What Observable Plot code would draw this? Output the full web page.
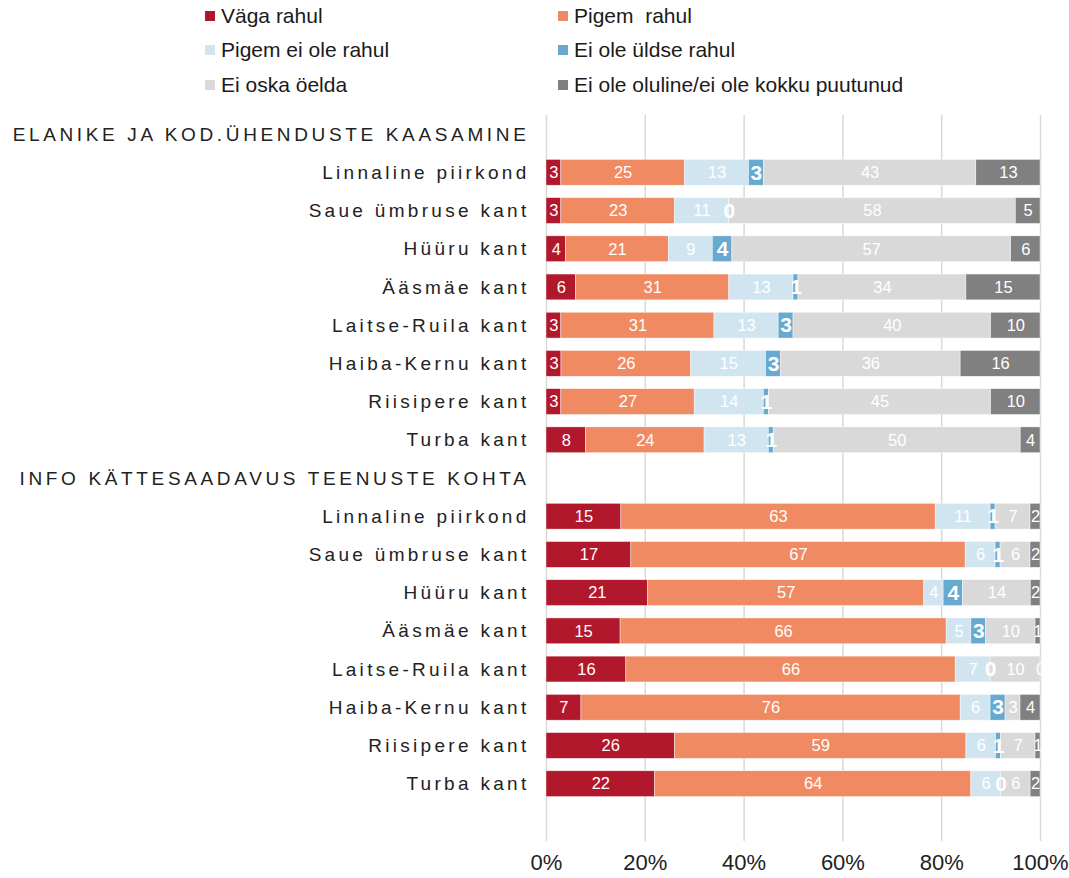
<!DOCTYPE html>
<html><head><meta charset="utf-8">
<script src="https://cdn.jsdelivr.net/npm/d3@7"></script>
<script src="https://cdn.jsdelivr.net/npm/@observablehq/plot@0.6"></script>
<style>
body{margin:0;background:#fff;font-family:"Liberation Sans",Arial,sans-serif;}
#wrap{position:relative;width:1069px;height:878px;}
#legend{position:absolute;left:0;top:0;width:1069px;height:100px;}
.li{position:absolute;font-size:21px;color:#1a1a1a;line-height:22px;white-space:nowrap}
.sw{position:absolute;width:10px;height:10px}
#chart{position:absolute;left:0;top:100px}
</style></head>
<body><div id="wrap"><div id="legend"></div><div id="chart"></div></div>
<script>
const categories = ["Väga rahul", "Pigem  rahul", "Pigem ei ole rahul", "Ei ole üldse rahul", "Ei oska öelda", "Ei ole oluline/ei ole kokku puutunud"];
const colors = ["#b2182b", "#ef8a62", "#d1e5f0", "#67a9cf", "#d9d9d9", "#808080"];
const groups = ["ELANIKE JA KOD.ÜHENDUSTE KAASAMINE", "INFO KÄTTESAADAVUS TEENUSTE KOHTA"];
const regions = ["Linnaline piirkond", "Saue ümbruse kant", "Hüüru kant", "Ääsmäe kant", "Laitse-Ruila kant", "Haiba-Kernu kant", "Riisipere kant", "Turba kant"];
const xTicks = [0, 0.2, 0.4, 0.6, 0.8, 1];

// Group 1: ELANIKE JA KOD.ÜHENDUSTE KAASAMINE (one array per category, by region)
const g1VagaRahul     = [3, 3, 4, 6, 3, 3, 3, 8];
const g1PigemRahul    = [25, 23, 21, 31, 31, 26, 27, 24];
const g1PigemEiOle    = [13, 11, 9, 13, 13, 15, 14, 13];
const g1EiOleUldse    = [3, 0, 4, 1, 3, 3, 1, 1];
const g1EiOska        = [43, 58, 57, 34, 40, 36, 45, 50];
const g1EiOleOluline  = [13, 5, 6, 15, 10, 16, 10, 4];
// Group 2: INFO KÄTTESAADAVUS TEENUSTE KOHTA
const g2VagaRahul     = [15, 17, 21, 15, 16, 7, 26, 22];
const g2PigemRahul    = [63, 67, 57, 66, 66, 76, 59, 64];
const g2PigemEiOle    = [11, 6, 4, 5, 7, 6, 6, 6];
const g2EiOleUldse    = [1, 1, 4, 3, 0, 3, 1, 0];
const g2EiOska        = [7, 6, 14, 10, 10, 3, 7, 6];
const g2EiOleOluline  = [2, 2, 2, 1, 0, 4, 1, 2];

const values = [
  [g1VagaRahul, g1PigemRahul, g1PigemEiOle, g1EiOleUldse, g1EiOska, g1EiOleOluline],
  [g2VagaRahul, g2PigemRahul, g2PigemEiOle, g2EiOleUldse, g2EiOska, g2EiOleOluline]
];

const rows = [];
const domain = [];
groups.forEach((g, gi) => {
  domain.push("H" + gi);
  regions.forEach((r, ri) => {
    const key = gi + "|" + r;
    domain.push(key);
    categories.forEach((c, ci) => rows.push({key, cat: c, value: values[gi][ci][ri]}));
  });
});
domain.push("blank");
const label = k => k.startsWith("H") ? groups[+k.slice(1)] : (k === "blank" ? "" : k.split("|")[1]);

// legend
const legend = document.getElementById("legend");
const legPos = [[205, 11], [558, 11], [205, 45], [558, 45], [205, 80], [558, 80]];
categories.forEach((c, i) => {
  const [x, y] = legPos[i];
  const sw = document.createElement("div");
  sw.className = "sw"; sw.style.left = x + "px"; sw.style.top = y + "px"; sw.style.background = colors[i];
  legend.appendChild(sw);
  const t = document.createElement("div");
  t.className = "li"; t.style.left = (x + 16) + "px"; t.style.top = (y - 6) + "px";
  t.textContent = c.replace(/ /g, "\u00a0");
  legend.appendChild(t);
});

const stackOpts = {x: "value", y: "key", z: "cat", order: categories, offset: "normalize"};
const font = '"Liberation Sans", Arial, sans-serif';
const chart = Plot.plot({
  width: 1069, height: 778,
  marginLeft: 546, marginRight: 29, marginTop: 15, marginBottom: 37,
  style: {fontFamily: font, fontSize: "19px", color: "#222", background: "white"},
  x: {domain: [0, 1]},
  y: {domain, padding: 0, round: false},
  color: {domain: categories, range: colors},
  marks: [
    Plot.ruleX(xTicks, {stroke: "#d9d9d9", strokeWidth: 1.5}),
    Plot.barX(rows, Plot.stackX({...stackOpts, fill: "cat", insetTop: 6.2, insetBottom: 6.2, stroke: "white", strokeWidth: 0.6, strokeOpacity: 0.7})),
    Plot.text(rows, Plot.filter(d => d.cat !== categories[3], Plot.stackX({...stackOpts, text: "value", fill: "white", fontSize: 16.5}))),
    Plot.text(rows, Plot.filter(d => d.cat === categories[3], Plot.stackX({...stackOpts, text: "value", fill: "white", fontSize: 21, fontWeight: "bold"}))),
    Plot.axisX({ticks: xTicks, tickFormat: d3.format(".0%"), tickSize: 0, tickPadding: 13, fontSize: 22, label: null}),
    Plot.axisY({tickSize: 0, tickPadding: 17, tickFormat: label, fontSize: 19, label: null})
  ]
});
document.getElementById("chart").appendChild(chart);
const heads = new Set(groups);
d3.select(chart).selectAll('g[aria-label="y-axis tick label"] text').each(function() {
  const t = this.textContent;
  this.style.letterSpacing = heads.has(t) ? "3.65px" : "3.3px";
  this.setAttribute("fill", "#222");
});
d3.select(chart).selectAll('g[aria-label="x-axis tick label"] text').attr("fill", "#222");
</script>
</body></html>
